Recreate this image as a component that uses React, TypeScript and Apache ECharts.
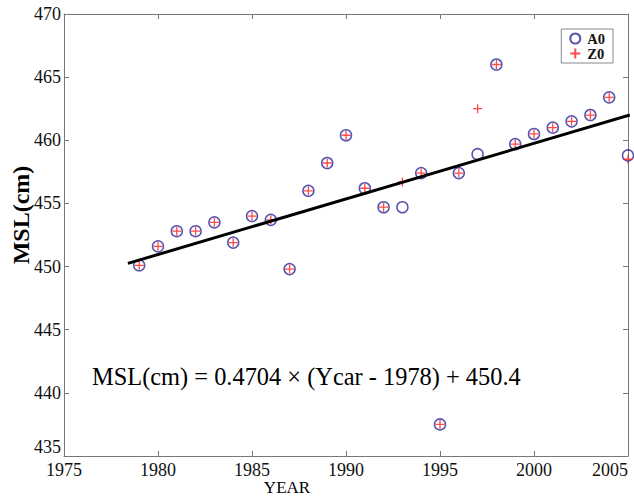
import React, { useEffect, useRef } from "react";
import * as echarts from "echarts";

const years = [1979, 1980, 1981, 1982, 1983, 1984, 1985, 1986, 1987, 1988, 1989, 1990, 1991, 1992, 1993, 1994, 1995, 1996, 1997, 1998, 1999, 2000, 2001, 2002, 2003, 2004, 2005];
const a0Values = [450.1, 451.6, 452.8, 452.8, 453.5, 451.9, 454.0, 453.7, 449.8, 456.0, 458.2, 460.4, 456.2, 454.7, 454.7, 457.4, 437.5, 457.4, 458.9, 466.0, 459.7, 460.5, 461.0, 461.5, 462.0, 463.4, 458.8];
const z0Values = [450.1, 451.6, 452.8, 452.8, 453.5, 451.9, 454.0, 453.7, 449.8, 456.0, 458.2, 460.4, 456.2, 454.7, 456.7, 457.4, 437.5, 457.4, 462.5, 466.0, 459.7, 460.5, 461.0, 461.5, 462.0, 463.4, 458.5];
const fitYears = [1978.4, 2005.1];
const fitValues = [450.25, 462.0];
const xTicks = { min: 1975, max: 2005, interval: 5 };
const yTicks = { min: 435, max: 470, interval: 5 };
const equationText = "MSL(cm) = 0.4704 × (Ycar - 1978) + 450.4";
const yLabel = "MSL(cm)";
const xLabel = "YEAR";

const SERIF = "'Liberation Serif', 'Times New Roman', serif";

export default function App() {
  const ref = useRef<HTMLDivElement>(null);
  useEffect(() => {
    if (!ref.current) return;
    const chart = echarts.init(ref.current, undefined, { renderer: "svg" });
    const axisLine = { show: true, lineStyle: { color: "#777", width: 1 } };
    const axisTick = { show: true, inside: true, length: 5, lineStyle: { color: "#777" } };
    const label = { fontFamily: SERIF, fontSize: 18, color: "#111", formatter: (v: number) => String(v) };
    chart.setOption({
      animation: false,
      backgroundColor: "#fff",
      grid: { left: 64, right: 6, top: 14, bottom: 41, containLabel: false },
      xAxis: [
        { type: "value", ...xTicks, position: "bottom", axisLine, axisTick, splitLine: { show: false }, axisLabel: { ...label, margin: 5, alignMaxLabel: "right" } },
        { type: "value", ...xTicks, position: "top", axisLine, axisTick, splitLine: { show: false }, axisLabel: { show: false } },
      ],
      yAxis: [
        { type: "value", ...yTicks, position: "left", axisLine, axisTick, splitLine: { show: false }, axisLabel: { ...label, margin: 3, verticalAlignMinLabel: "bottom" } },
        { type: "value", ...yTicks, position: "right", axisLine, axisTick, splitLine: { show: false }, axisLabel: { show: false } },
      ],
      legend: {
        right: 21,
        top: 29,
        orient: "vertical",
        itemGap: 0,
        itemWidth: 10,
        itemHeight: 10,
        padding: [2, 8, 2, 8],
        borderColor: "#888",
        borderWidth: 1,
        backgroundColor: "#fff",
        textStyle: { fontFamily: SERIF, fontSize: 14.5, lineHeight: 14, fontWeight: "bold", color: "#111", padding: [0, 0, 0, 2] },
        data: ["A0", "Z0"],
      },
      series: [
        {
          type: "line",
          name: "fit",
          data: fitYears.map((x, i) => [x, fitValues[i]]),
          showSymbol: false,
          symbol: "none",
          lineStyle: { color: "#000", width: 3 },
          silent: true,
        },
        {
          type: "scatter",
          name: "A0",
          data: years.map((y, i) => [y, a0Values[i]]),
          symbol: "circle",
          symbolSize: 11,
          clip: false,
          itemStyle: { color: "rgba(0,0,0,0)", borderColor: "#2a2a9c", borderWidth: 1.5 },
        },
        {
          type: "scatter",
          name: "Z0",
          data: years.map((y, i) => [y, z0Values[i]]),
          symbol: "path://M5,0L5,10M0,5L10,5",
          symbolSize: 9,
          clip: false,
          itemStyle: { color: "rgba(0,0,0,0)", borderColor: "#ff1a1a", borderWidth: 1.3 },
        },
      ],
      graphic: [
        {
          type: "text",
          left: 92,
          top: 364,
          style: { text: equationText, fontFamily: SERIF, fontSize: 24.4, fill: "#000" },
        },
        {
          type: "text",
          x: 21,
          y: 215,
          rotation: Math.PI / 2,
          style: { text: yLabel, fontFamily: SERIF, fontSize: 24, fontWeight: "bold", fill: "#000", align: "center", verticalAlign: "middle" },
        },
        {
          type: "text",
          x: 287,
          y: 487,
          style: { text: xLabel, fontFamily: SERIF, fontSize: 17, fill: "#000", align: "center", verticalAlign: "middle" },
        },
      ],
    });
    return () => chart.dispose();
  }, []);
  return <div ref={ref} style={{ width: 634, height: 497, position: "absolute", left: 0, top: 0 }} />;
}
